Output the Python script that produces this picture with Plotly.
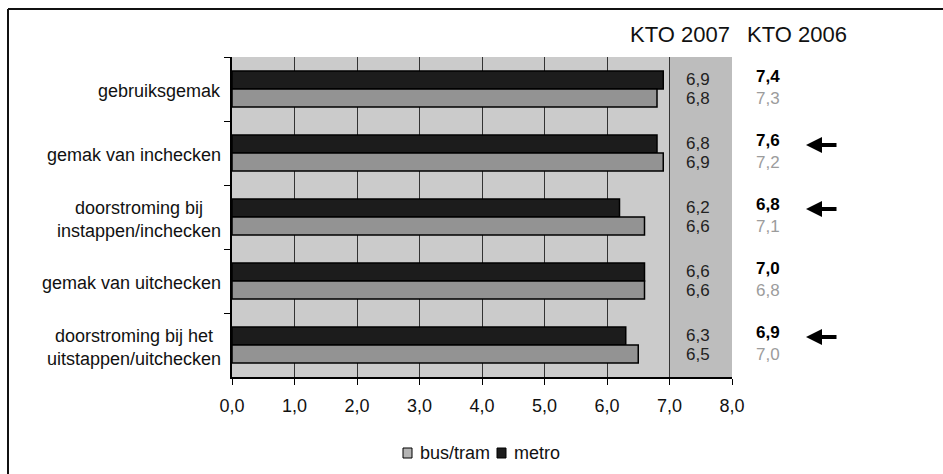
import plotly.graph_objects as go

# ---- data ----
categories = [
    "gebruiksgemak",
    "gemak van inchecken",
    "doorstroming bij<br>instappen/inchecken",
    "gemak van uitchecken",
    "doorstroming bij het<br>uitstappen/uitchecken",
]
metro_2007 = [6.9, 6.8, 6.2, 6.6, 6.3]
bus_2007 = [6.8, 6.9, 6.6, 6.6, 6.5]
metro_2006 = [7.4, 7.6, 6.8, 7.0, 6.9]
bus_2006 = [7.3, 7.2, 7.1, 6.8, 7.0]
arrow_flags = [False, True, True, False, True]
x_ticks = [0, 1, 2, 3, 4, 5, 6, 7, 8]
x_ticktext = ["0,0", "1,0", "2,0", "3,0", "4,0", "5,0", "6,0", "7,0", "8,0"]
header_2007 = "KTO 2007"
header_2006 = "KTO 2006"
legend_names = ["bus/tram", "metro"]

def fmt(v):
    return f"{v:.1f}".replace(".", ",")

# ---- layout constants (pixels) ----
W, H = 943, 474
L, R, T, B = 232, 732, 57, 377
FONT = "Liberation Sans, Arial, sans-serif"
METRO_COLOR = "#1c1c1c"
BUS_COLOR = "#939393"

def px(x):
    return (x - L) / (R - L)

def py(y):
    return (B - y) / (B - T)

BAR_SHIFT = 9  # px offset of each bar in the group

fig = go.Figure()
fig.add_trace(go.Bar(
    y=categories, x=metro_2007, orientation="h", name=legend_names[1],
    marker=dict(color=METRO_COLOR, line=dict(color="#000000", width=1.5)),
    showlegend=False,
))
fig.add_trace(go.Bar(
    y=categories, x=bus_2007, orientation="h", name=legend_names[0],
    marker=dict(color=BUS_COLOR, line=dict(color="#000000", width=1.5)),
    showlegend=False,
))

ann = []
# category labels
for c in categories:
    ann.append(dict(xref="paper", yref="y", x=px(223), y=c, text=c,
                    xanchor="right", yanchor="middle", align="center",
                    showarrow=False, yshift=-2,
                    font=dict(family=FONT, size=18, color="#111111")))
# KTO 2007 value column
for c, m, b in zip(categories, metro_2007, bus_2007):
    ann.append(dict(xref="x", yref="y", x=7.46, y=c, text=fmt(m),
                    xanchor="center", yanchor="middle",
                    showarrow=False, yshift=BAR_SHIFT + 0.5,
                    font=dict(family=FONT, size=17, color="#222222")))
    ann.append(dict(xref="x", yref="y", x=7.46, y=c, text=fmt(b),
                    xanchor="center", yanchor="middle",
                    showarrow=False, yshift=-BAR_SHIFT - 0.5,
                    font=dict(family=FONT, size=17, color="#222222")))
# KTO 2006 value column (two lines per category)
for c, m, b in zip(categories, metro_2006, bus_2006):
    ann.append(dict(xref="paper", yref="y", x=px(768), y=c,
                    text="<b>" + fmt(m) + "</b><br><span style='color:#9c9c9c'>"
                         + fmt(b) + "</span>",
                    xanchor="center", yanchor="middle", align="center",
                    showarrow=False, yshift=2,
                    font=dict(family=FONT, size=17, color="#000000")))
# arrows
for c, f in zip(categories, arrow_flags):
    if f:
        ann.append(dict(xref="paper", yref="y", x=px(806), y=c, text="",
                        showarrow=True, ax=32, ay=0, axref="pixel", ayref="pixel",
                        arrowhead=2, arrowsize=0.8, arrowwidth=4,
                        arrowcolor="#000000", yshift=BAR_SHIFT - 1))
# headers
ann.append(dict(xref="paper", yref="paper", x=px(680), y=py(35), text=header_2007,
                xanchor="center", yanchor="middle", showarrow=False,
                font=dict(family=FONT, size=22, color="#111111")))
ann.append(dict(xref="paper", yref="paper", x=px(797), y=py(35), text=header_2006,
                xanchor="center", yanchor="middle", showarrow=False,
                font=dict(family=FONT, size=22, color="#111111")))

# legend (drawn compactly like the original)
leg_y = 453
leg_items = [(403, 418, legend_names[0], "#b4b4b4"),
             (497, 512, legend_names[1], METRO_COLOR)]
shapes = [
    # slightly darker band behind value column
    dict(type="rect", xref="x", yref="paper", x0=7, x1=8, y0=0, y1=1,
         fillcolor="#bdbdbd", line=dict(width=0), layer="below"),
    # frame (page border)
    dict(type="line", xref="paper", yref="paper", x0=px(8), x1=px(960),
         y0=py(9), y1=py(9), line=dict(color="#111111", width=2)),
    dict(type="line", xref="paper", yref="paper", x0=px(8), x1=px(8),
         y0=py(9), y1=py(490), line=dict(color="#111111", width=2)),
]
for sx, tx, name, col in leg_items:
    shapes.append(dict(type="rect", xref="paper", yref="paper",
                       x0=px(sx), x1=px(sx + 9), y0=py(leg_y - 5), y1=py(leg_y + 5),
                       fillcolor=col, line=dict(color="#000000", width=1)))
    ann.append(dict(xref="paper", yref="paper", x=px(tx), y=py(leg_y), text=name,
                    xanchor="left", yanchor="middle", showarrow=False,
                    font=dict(family=FONT, size=18, color="#111111")))

fig.update_layout(
    width=W, height=H,
    margin=dict(l=L, r=W - R, t=T, b=H - B, autoexpand=False),
    paper_bgcolor="#ffffff",
    plot_bgcolor="#cbcbcb",
    barmode="group",
    bargap=0.4375,
    bargroupgap=0,
    font=dict(family=FONT, size=18, color="#111111"),
    annotations=ann,
    shapes=shapes,
    showlegend=False,
    xaxis=dict(range=[0, 8], tickvals=x_ticks, ticktext=x_ticktext,
               showgrid=True, gridcolor="#333333", gridwidth=1,
               showline=True, linecolor="#000000", linewidth=1.5,
               ticks="outside", ticklen=6, tickcolor="#000000",
               tickfont=dict(family=FONT, size=18, color="#111111"),
               ticklabelstandoff=6, zeroline=False, fixedrange=True),
    yaxis=dict(categoryorder="array", categoryarray=categories,
               autorange="reversed", showticklabels=False,
               ticks="outside", ticklen=6, tickcolor="#000000",
               tickson="boundaries", showgrid=False,
               showline=True, linecolor="#000000", linewidth=1.5,
               fixedrange=True),
)

fig.write_html("out.html")
